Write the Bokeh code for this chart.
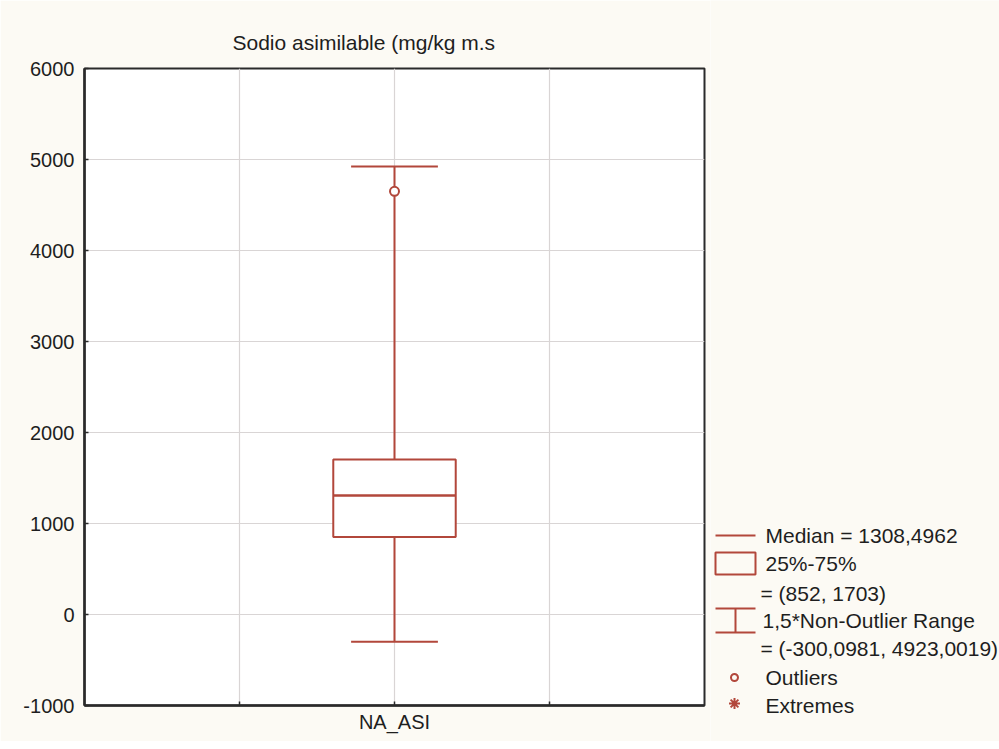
from bokeh.plotting import figure
from bokeh.models import Range1d, FixedTicker, Title
from bokeh.layouts import row, column
from bokeh.embed import file_html
from bokeh.resources import INLINE
from bokeh.core.properties import value

# ---- data ----
categories = ["NA_ASI"]
cat_pos = [2]
q1 = [852]
q3 = [1703]
median = [1308.4962]
whisker_low = [-300.0981]
whisker_high = [4923.0019]
outlier_vals = [4650]
outlier_pos = [2]
y_ticks = [-1000, 0, 1000, 2000, 3000, 4000, 5000, 6000]
title_text = "Sodio asimilable (mg/kg m.s"
legend_texts = ["Median = 1308,4962", "25%-75%", "= (852, 1703)",
                "1,5*Non-Outlier Range", "= (-300,0981, 4923,0019)",
                "Outliers", "Extremes"]

RED = "#b2473b"
TXT = "#1e1e1e"
CREAM = "#fcfaf4"
FONT = "Liberation Sans"
FS = "20px"
FS_BIG = "21px"

BOX_W = 0.79
CAP_W = 0.56

TOP, BOT = 68, 36
H = 741
p = figure(width=710, height=H, x_range=Range1d(0, 4), y_range=Range1d(-1000, 6000),
           output_backend="svg", toolbar_location=None,
           min_border_left=84, min_border_right=6, min_border_top=TOP, min_border_bottom=BOT)
p.border_fill_color = CREAM
p.background_fill_color = "white"
p.outline_line_color = "#2a2a2a"
p.outline_line_width = 2

t = Title(text=title_text, align="left", offset=148, text_font=FONT, text_font_size=FS_BIG,
          text_font_style="normal", text_color=TXT, standoff=30)
p.add_layout(t, "above")

p.xaxis.ticker = FixedTicker(ticks=[1, 2, 3])
p.xaxis.major_label_overrides = {1: "", 2: categories[0], 3: ""}
p.yaxis.ticker = FixedTicker(ticks=y_ticks)
p.yaxis.major_label_overrides = {v: str(v) for v in y_ticks}
for ax in (p.xaxis[0], p.yaxis[0]):
    ax.axis_line_color = "#2a2a2a"
    ax.axis_line_width = 2.5
    ax.major_tick_in = 4
    ax.major_tick_out = 0
    ax.major_tick_line_color = "#2a2a2a"
    ax.major_tick_line_width = 1.5
    ax.minor_tick_line_color = None
    ax.major_label_text_font = FONT
    ax.major_label_text_font_size = FS
    ax.major_label_text_color = TXT
p.yaxis.major_label_standoff = 10
p.xaxis.major_label_standoff = 5

p.xgrid.ticker = FixedTicker(ticks=[1, 2, 3])
p.ygrid.ticker = FixedTicker(ticks=y_ticks)
p.grid.grid_line_color = "#d9d5d5"
p.grid.grid_line_width = 1.2

# whiskers
p.segment(x0=cat_pos, y0=whisker_low, x1=cat_pos, y1=q1, line_color=RED, line_width=2)
p.segment(x0=cat_pos, y0=q3, x1=cat_pos, y1=whisker_high, line_color=RED, line_width=2)
p.segment(x0=[c - CAP_W / 2 for c in cat_pos], y0=whisker_low,
          x1=[c + CAP_W / 2 for c in cat_pos], y1=whisker_low, line_color=RED, line_width=2)
p.segment(x0=[c - CAP_W / 2 for c in cat_pos], y0=whisker_high,
          x1=[c + CAP_W / 2 for c in cat_pos], y1=whisker_high, line_color=RED, line_width=2)
# box
p.quad(left=[c - BOX_W / 2 for c in cat_pos], right=[c + BOX_W / 2 for c in cat_pos],
       bottom=q1, top=q3, fill_color="white", line_color=RED, line_width=2)
p.segment(x0=[c - BOX_W / 2 for c in cat_pos], y0=median,
          x1=[c + BOX_W / 2 for c in cat_pos], y1=median, line_color=RED, line_width=2.5)
# outliers
p.scatter(x=outlier_pos, y=outlier_vals, marker="circle", size=9, fill_color="white",
          line_color=RED, line_width=2)

# ---- legend panel (page pixel coordinates) ----
lg = figure(width=289, height=H, x_range=Range1d(710, 999), y_range=Range1d(H, 0),
            output_backend="svg", toolbar_location=None,
            min_border_left=0, min_border_right=0, min_border_top=0, min_border_bottom=0)
lg.axis.visible = False
lg.grid.visible = False
lg.outline_line_color = None
lg.border_fill_color = CREAM
lg.background_fill_color = CREAM

lg.segment(x0=[715], y0=[535], x1=[755], y1=[535], line_color=RED, line_width=2)
lg.quad(left=[715], right=[755], top=[552], bottom=[574], fill_color=None,
        line_color=RED, line_width=2)
lg.segment(x0=[715, 715, 735], y0=[608, 632, 608], x1=[755, 755, 735], y1=[608, 632, 632],
           line_color=RED, line_width=2)
lg.scatter(x=[734], y=[677], marker="circle", size=7, fill_color=None, line_color=RED, line_width=2)
lg.scatter(x=[734], y=[703], marker="asterisk", size=11, line_color=RED, line_width=2)

lx = [765, 765, 760, 762, 760, 765, 765]
ly = [535, 563, 593, 620, 648, 677, 705]
lg.text(x=lx, y=ly, text=legend_texts, text_font=value(FONT), text_font_size=FS_BIG,
        text_color=TXT, text_baseline="middle", text_align="left")

layout = row(p, column(lg))
open("out.html", "w").write(file_html(layout, INLINE))
